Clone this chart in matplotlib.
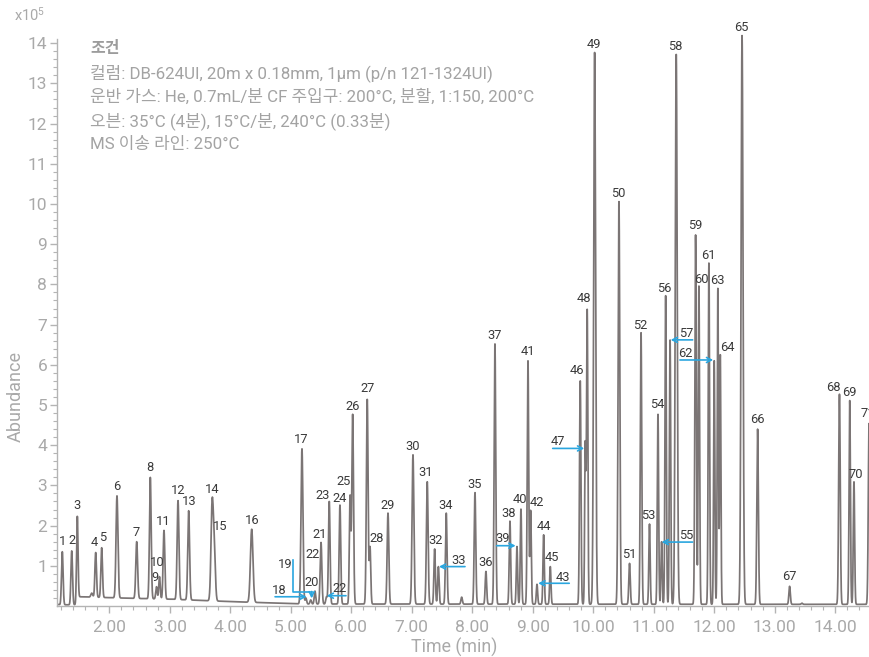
import numpy as np
import matplotlib
matplotlib.use('Agg')
import matplotlib.pyplot as plt
from matplotlib.ticker import MultipleLocator, FixedLocator, FormatStrFormatter

plt.rcParams['font.family'] = ['Roboto', 'Noto Sans CJK KR', 'DejaVu Sans']
plt.rcParams['mathtext.fontset'] = 'custom'
plt.rcParams['mathtext.rm'] = 'Roboto'
plt.rcParams['mathtext.it'] = 'Roboto'
plt.rcParams['mathtext.bf'] = 'Roboto'

# ---------------- data ----------------
# retention time (min), apex abundance (x10^5), peak width (sigma, min)
peak_rt = [1.223, 1.379, 1.471, 1.71, 1.775, 1.874, 2.127, 2.453, 2.678, 2.78, 2.83, 2.904,
           3.136, 3.312, 3.70, 3.735, 4.354, 5.185, 5.25, 5.33, 5.40, 5.50, 5.59, 5.636,
           5.813, 5.98, 6.023, 6.264, 6.31, 6.607, 7.02, 7.256, 7.378, 7.44, 7.57, 7.825,
           8.045, 8.226, 8.375, 8.623, 8.739, 8.805, 8.921, 8.965, 9.07, 9.18, 9.29,
           9.785, 9.868, 9.90, 10.023, 10.425, 10.60, 10.79, 10.93, 11.07, 11.13, 11.197,
           11.27, 11.372, 11.692, 11.747, 11.912, 12.0, 12.06, 12.10, 12.46, 12.717,
           13.246, 13.45, 14.07, 14.24, 14.31, 14.56]
peak_height = [1.35, 1.37, 2.23, 0.32, 1.33, 1.45, 2.74, 1.60, 3.20, 0.48, 0.73, 1.88,
               2.62, 2.37, 2.67, 1.76, 1.91, 3.91, 0.20, 0.15, 0.37, 1.58, 0.23, 2.60,
               2.51, 2.76, 4.77, 5.14, 1.48, 2.31, 3.76, 3.09, 1.42, 0.98, 2.31, 0.22,
               2.82, 0.86, 6.52, 2.11, 1.48, 2.41, 6.10, 2.38, 0.54, 1.77, 0.98,
               5.60, 4.10, 7.38, 13.77, 10.06, 1.06, 6.80, 2.04, 4.77, 1.60, 7.72,
               6.62, 13.72, 9.23, 7.96, 8.53, 6.10, 7.90, 6.25, 14.19, 4.40,
               0.49, 0.07, 5.27, 5.11, 3.09, 4.54]
peak_sigma = [0.013, 0.013, 0.012, 0.015, 0.013, 0.013, 0.016, 0.015, 0.014, 0.012, 0.012, 0.014,
              0.015, 0.015, 0.019, 0.018, 0.021, 0.016, 0.012, 0.012, 0.012, 0.014, 0.012, 0.013,
              0.013, 0.012, 0.014, 0.014, 0.012, 0.014, 0.015, 0.014, 0.012, 0.012, 0.013, 0.012,
              0.013, 0.012, 0.013, 0.012, 0.011, 0.011, 0.012, 0.011, 0.011, 0.011, 0.011,
              0.012, 0.010, 0.011, 0.016, 0.014, 0.012, 0.012, 0.011, 0.011, 0.010, 0.011,
              0.011, 0.016, 0.012, 0.011, 0.011, 0.010, 0.010, 0.010, 0.016, 0.013,
              0.012, 0.012, 0.013, 0.011, 0.011, 0.013]

baseline_rt = [1.135, 1.20, 1.44, 1.50, 2.4, 3.0, 3.5, 4.0, 4.6, 5.2, 14.6]
baseline_val = [0.04, 0.03, 0.03, 0.23, 0.19, 0.17, 0.14, 0.11, 0.08, 0.05, 0.04]

# peak number labels: text, time, abundance (label centre)
label_text = ['1', '2', '3', '4', '5', '6', '7', '8', '9', '10', '11', '12', '13', '14', '15',
              '16', '17', '18', '19', '20', '21', '22', '22', '23', '24', '25', '26', '27', '28',
              '29', '30', '31', '32', '33', '34', '35', '36', '37', '38', '39', '40', '41', '42',
              '43', '44', '45', '46', '47', '48', '49', '50', '51', '52', '53', '54', '55', '56',
              '57', '58', '59', '60', '61', '62', '63', '64', '65', '66', '67', '68', '69', '70',
              '71']
label_rt = [1.223, 1.379, 1.471, 1.747, 1.884, 2.127, 2.446, 2.673, 2.755, 2.793, 2.893, 3.140,
            3.322, 3.698, 3.830, 4.359, 5.180, 4.805, 4.904, 5.345, 5.483, 5.355, 5.80, 5.527,
            5.802, 5.879, 6.028, 6.264, 6.42, 6.60, 7.008, 7.235, 7.395, 7.78, 7.565, 8.044,
            8.22, 8.375, 8.607, 8.496, 8.788, 8.916, 9.065, 9.494, 9.18, 9.312, 9.735, 9.42,
            9.851, 10.011, 10.413, 10.59, 10.777, 10.916, 11.053, 11.532, 11.18, 11.532,
            11.355, 11.686, 11.792, 11.901, 11.527, 12.05, 12.215, 12.453, 12.711, 13.235,
            13.962, 14.226, 14.347, 14.54]
label_ab = [1.60, 1.62, 2.50, 1.57, 1.70, 2.97, 1.82, 3.44, 0.70, 1.08, 2.10, 2.87,
            2.59, 2.90, 1.97, 2.12, 4.15, 0.38, 1.02, 0.59, 1.79, 1.27, 0.44, 2.76,
            2.68, 3.09, 4.96, 5.40, 1.68, 2.51, 3.98, 3.32, 1.64, 1.14, 2.51, 3.03,
            1.08, 6.74, 2.31, 1.68, 2.64, 6.33, 2.58, 0.71, 1.99, 1.20, 5.85, 4.09,
            7.64, 13.98, 10.27, 1.29, 6.99, 2.24, 5.00, 1.75, 7.90, 6.77,
            13.93, 9.46, 8.13, 8.71, 6.27, 8.09, 6.43, 14.39, 4.65, 0.73,
            5.44, 5.32, 3.28, 4.78]

# blue pointer arrows: (tail time, tail abundance, head time, head abundance)
arrow_tail_rt = [4.74, 5.913, 7.88, 8.403, 9.603, 9.33, 11.643, 11.643, 11.433]
arrow_tail_ab = [0.23, 0.256, 0.98, 1.50, 0.565, 3.92, 1.59, 6.62, 6.12]
arrow_head_rt = [5.263, 5.594, 7.45, 8.717, 9.09, 9.851, 11.13, 11.28, 11.983]
arrow_head_ab = [0.23, 0.256, 0.98, 1.50, 0.565, 3.92, 1.59, 6.62, 6.12]
# bent pointer for peak 19
bent_rt = [5.03, 5.03, 5.345]
bent_ab = [1.14, 0.36, 0.36]
bent_head = (5.345, 0.19)

conditions_title = '조건'
conditions = ['컬럼: DB-624UI, 20m x 0.18mm, 1µm (p/n 121-1324UI)',
              '운반 가스: He, 0.7mL/분 CF 주입구: 200°C, 분할, 1:150, 200°C',
              '오븐: 35°C (4분), 15°C/분, 240°C (0.33분)',
              'MS 이송 라인: 250°C']

# ---------------- build trace ----------------
t_pk = np.array(peak_rt)
h_pk = np.array(peak_height)
s_pk = np.array(peak_sigma)
target = h_pk - np.interp(t_pk, baseline_rt, baseline_val)
M = np.exp(-(t_pk[:, None] - t_pk[None, :]) ** 2 / (2 * s_pk[None, :] ** 2))
amp = target.copy()
for _ in range(300):
    for i in range(len(amp)):
        r = target[i] - (M[i] @ amp - amp[i])
        amp[i] = max(0.01, r)

t = np.arange(1.12, 14.62, 0.0008)
y = np.interp(t, baseline_rt, baseline_val)
for a, c, s in zip(amp, t_pk, s_pk):
    y = y + a * np.exp(-(t - c) ** 2 / (2 * s ** 2))

# ---------------- figure ----------------
W, H = 870, 657
fig = plt.figure(figsize=(W / 100, H / 100), dpi=100)
y0_px, py_per = 606.0, 40.2
ytop = 14.6
ax_left = 57 / W
ax_bottom = (H - y0_px) / H
ax_height = (ytop * py_per) / H
ax = fig.add_axes([ax_left, ax_bottom, 1 - ax_left, ax_height])
ax.set_xlim(1.1355, 14.575)
ax.set_ylim(0, ytop)

ax.plot(t, y, color='#7b7575', lw=1.25, solid_joinstyle='round', clip_on=True)

axis_grey = '#b4b4b4'
label_grey = '#a9a9a9'
for side in ['top', 'right']:
    ax.spines[side].set_visible(False)
for side in ['left', 'bottom']:
    ax.spines[side].set_color(axis_grey)
    ax.spines[side].set_linewidth(1.0)
ax.spines['left'].set_bounds(0, 14.1)

ax.xaxis.set_major_locator(MultipleLocator(1))
ax.xaxis.set_major_formatter(FormatStrFormatter('%.2f'))
ax.xaxis.set_minor_locator(MultipleLocator(0.2))
ax.yaxis.set_major_locator(FixedLocator(list(range(1, 15))))
ax.yaxis.set_minor_locator(FixedLocator([i * 0.2 for i in range(1, 71)]))
ax.tick_params(axis='both', which='major', color=axis_grey, labelcolor=label_grey,
               labelsize=12.5, length=5, width=1.0, direction='out')
ax.tick_params(axis='both', which='minor', color=axis_grey, length=3, width=0.8, direction='out')
ax.tick_params(axis='x', which='major', pad=5)
ax.tick_params(axis='y', which='major', pad=2)

# peak labels
for txt, lx, ly in zip(label_text, label_rt, label_ab):
    ax.text(lx, ly, txt, ha='center', va='center', fontsize=9.3, color='#3a3a3a', clip_on=False)

# arrows
blue = '#2aa6df'
for x1, y1, x2, y2 in zip(arrow_tail_rt, arrow_tail_ab, arrow_head_rt, arrow_head_ab):
    ax.annotate('', xy=(x2, y2), xytext=(x1, y1),
                arrowprops=dict(arrowstyle='->,head_length=0.35,head_width=0.18', color=blue,
                                lw=1.2, shrinkA=0, shrinkB=0))
ax.plot(bent_rt, bent_ab, color=blue, lw=1.2)
ax.annotate('', xy=bent_head, xytext=(bent_rt[-1], bent_ab[-1]),
            arrowprops=dict(arrowstyle='->,head_length=0.35,head_width=0.18', color=blue,
                            lw=1.2, shrinkA=0, shrinkB=0))

# condition box text
fig.text(90 / W, 1 - 48 / H, conditions_title, fontsize=11.5, fontweight='bold',
         color='#9c9c9c', ha='left', va='center')
for i, line in enumerate(conditions):
    fig.text(90 / W, 1 - (73 + 24 * i) / H, line, fontsize=12.2, color='#a3a3a3',
             ha='left', va='center')

# axis labels
fig.text(14 / W, 1 - 15 / H, r'x10$^{5}$', fontsize=10.5, color=label_grey,
         ha='left', va='center')
fig.text(16 / W, 1 - 397 / H, 'Abundance', fontsize=13, color=label_grey, rotation=90,
         ha='center', va='center')
fig.text(454 / W, 1 - 647 / H, 'Time (min)', fontsize=12.8, color=label_grey,
         ha='center', va='center')

fig.savefig('out.png', dpi=100)
